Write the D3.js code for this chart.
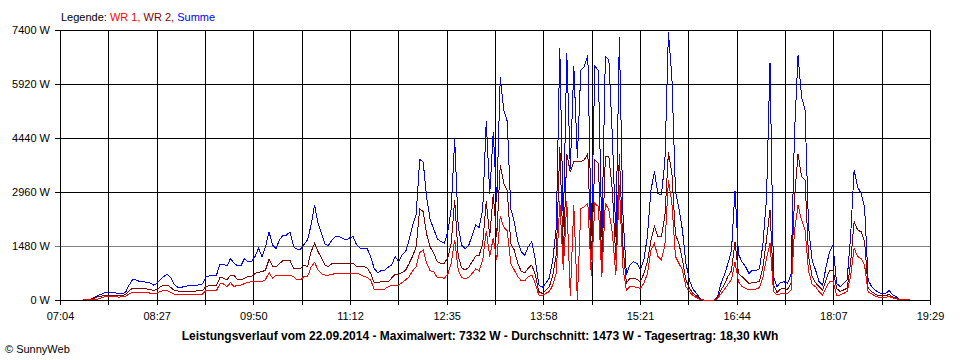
<!DOCTYPE html>
<html>
<head>
<meta charset="utf-8">
<script src="https://cdnjs.cloudflare.com/ajax/libs/d3/7.8.5/d3.min.js"></script>
<style>
  body { margin: 0; background: #fff; }
  svg { display: block; font-family: "Liberation Sans", Arial, sans-serif; font-size: 11px; }
</style>
</head>
<body>
<div id="chart"></div>
<script>
// samples every 3 minutes, first one at 07:24
var startMinute = 444;
var stepMinutes = 3;

// Summe (W)
var summe = [
  20, 20, 20, 60, 120, 150, 200, 200, 205, 200,
  170, 175, 200, 400, 550, 550, 510, 500, 490, 470,
  410, 455, 565, 650, 705, 600, 420, 350, 350, 370,
  390, 390, 385, 420, 440, 640, 660, 660, 680, 985,
  980, 930, 1140, 1005, 940, 940, 1140, 1050, 1050, 1190,
  1415, 1190, 1460, 1870, 1500, 1415, 1650, 1780, 1780, 1870,
  1460, 1390, 1390, 1525, 1645, 2055, 2600, 2100, 1830, 1520,
  1500, 1645, 1735, 1735, 1690, 1645, 1700, 1735, 1510, 1415,
  1415, 1415, 1190, 870, 750, 805, 805, 900, 960, 1190,
  1050, 1235, 1325, 1650, 2050, 2350, 3850, 3780, 2800, 2200,
  1950, 1680, 1600, 1560, 1850, 2500, 4400, 2000, 1500, 1400,
  1500, 1780, 2050, 1990, 2500, 4900, 2900, 4600, 2700, 6100,
  5200, 4900, 2500, 2150, 1600, 1320, 1230, 1460, 1600, 1100,
  410, 350, 455, 600, 1100, 2000, 6900, 2000, 6760, 3600,
  6400, 3900, 6300, 6400, 6700, 1750, 6400, 6300, 1735, 6670,
  6580, 4475, 1735, 7200, 2400, 700, 960, 1050, 1005, 840,
  1100, 1750, 3000, 3520, 2920, 2880, 3800, 7332, 6100, 3000,
  2500, 1920, 1005, 540, 300, 180, 45, 0, 0, 0,
  0, 90, 450, 700, 1000, 1350, 3000, 1250, 1050, 915,
  730, 820, 800, 860, 1550, 2790, 6490, 650, 365, 480,
  500, 455, 700, 4600, 6700, 5570, 5200, 2000, 1100, 820,
  500, 412, 900, 1325, 1500, 457, 365, 455, 550, 1735,
  3560, 3100, 2920, 2550, 550, 365, 275, 200, 180, 180,
  260, 137, 90, 20, 0, 20, 0
];

// WR 1 (W)
var wr1 = [
  5, 5, 5, 15, 20, 50, 90, 90, 90, 90,
  80, 85, 100, 160, 210, 210, 210, 205, 205, 190,
  180, 185, 240, 255, 260, 210, 160, 146, 146, 146,
  146, 146, 146, 150, 160, 255, 255, 255, 260, 440,
  440, 365, 475, 365, 410, 410, 450, 480, 500, 500,
  520, 500, 560, 750, 600, 685, 685, 685, 685, 685,
  640, 550, 550, 640, 640, 900, 1030, 820, 720, 685,
  685, 700, 730, 730, 730, 730, 730, 730, 730, 700,
  650, 620, 550, 300, 300, 300, 300, 360, 410, 410,
  410, 480, 550, 640, 800, 915, 1300, 1370, 1000, 800,
  775, 620, 620, 595, 700, 1005, 1650, 820, 620, 580,
  620, 730, 850, 800, 1100, 1900, 1190, 1700, 1100, 2300,
  2000, 1900, 1005, 820, 640, 530, 530, 640, 685, 455,
  137, 120, 180, 230, 410, 750, 2700, 820, 2700, 100,
  2600, 0, 2500, 2560, 2650, 650, 2650, 2560, 640, 2650,
  2470, 1830, 685, 3150, 900, 275, 365, 365, 350, 320,
  455, 720, 1370, 1550, 1190, 1100, 1500, 3280, 2650, 1200,
  1005, 820, 365, 230, 120, 70, 15, 0, 0, 0,
  0, 30, 170, 290, 430, 560, 1050, 500, 365, 320,
  275, 290, 300, 340, 640, 1150, 1550, 230, 137, 170,
  180, 180, 270, 1900, 2600, 2190, 1920, 800, 430, 365,
  230, 137, 340, 500, 500, 137, 137, 180, 230, 640,
  1420, 1190, 1140, 950, 220, 165, 110, 80, 70, 70,
  100, 55, 35, 8, 0, 5, 0
];

// WR 2 (W)
var wr2 = [
  15, 15, 15, 45, 90, 100, 130, 130, 130, 130,
  115, 115, 150, 250, 320, 320, 320, 310, 310, 280,
  270, 280, 370, 400, 410, 340, 260, 245, 245, 245,
  245, 245, 245, 250, 260, 370, 395, 395, 400, 620,
  600, 550, 685, 685, 550, 550, 600, 640, 640, 730,
  760, 775, 820, 1115, 930, 915, 1000, 1080, 1080, 1080,
  870, 870, 870, 960, 915, 1325, 1550, 1325, 1140, 950,
  915, 1005, 1005, 1005, 1005, 1005, 1005, 1005, 915, 915,
  915, 880, 730, 475, 475, 500, 500, 500, 600, 710,
  710, 750, 820, 1005, 1200, 1460, 2500, 2420, 1800, 1450,
  1280, 1060, 1000, 1005, 1150, 1550, 2750, 1190, 880, 820,
  895, 1050, 1200, 1230, 1550, 2700, 1735, 2900, 1735, 3700,
  3200, 3000, 1550, 1370, 1005, 780, 750, 870, 960, 685,
  230, 180, 275, 360, 685, 1250, 4200, 1190, 4000, 3500,
  3800, 3800, 3800, 3840, 4020, 1100, 3840, 3750, 1000, 3930,
  3930, 3015, 1100, 4000, 1500, 460, 595, 595, 565, 500,
  730, 1050, 1640, 2010, 1735, 1735, 2300, 4050, 3470, 1800,
  1550, 1100, 550, 320, 180, 110, 20, 0, 0, 0,
  0, 50, 280, 420, 650, 800, 1600, 720, 640, 550,
  455, 475, 480, 520, 915, 1650, 2470, 420, 200, 300,
  320, 290, 450, 2800, 4000, 3380, 3290, 1200, 650, 475,
  365, 275, 560, 820, 820, 320, 230, 275, 320, 1005,
  2150, 1920, 1870, 1600, 330, 230, 165, 120, 110, 110,
  160, 80, 55, 10, 0, 5, 0
];

var yTicks = [0, 1480, 2960, 4440, 5920, 7400];
var xTickLabels = ["07:04", "", "08:27", "", "09:50", "", "11:12", "", "12:35", "",
                   "13:58", "", "15:21", "", "16:44", "", "18:07", "", "19:29"];
var seriesNames = ["WR 1", "WR 2", "Summe"];
var titleText = "Leistungsverlauf vom 22.09.2014 - Maximalwert: 7332 W - Durchschnitt: 1473 W - Tagesertrag: 18,30 kWh";

function run() {
    var width = 960, height = 360;
    var left = 60, right = 930, top = 30, bottom = 300;
    var minStart = 424, minEnd = 1169;

    var x = d3.scaleLinear().domain([minStart, minEnd]).range([left, right]);
    var y = d3.scaleLinear().domain([0, 7400]).range([bottom, top]);

    var svg = d3.select("#chart").append("svg")
        .attr("width", width)
        .attr("height", height)
        .style("background", "#fff");

    //horizontal grid + y labels
    var yAxis = d3.axisLeft(y)
        .tickValues(yTicks)
        .tickSize(right - left + 5)
        .tickPadding(5)
        .tickFormat(function(d) { return d + " W"; });
    var gy = svg.append("g")
        .attr("transform", "translate(" + right + ",0)")
        .call(yAxis);
    gy.select(".domain").remove();
    gy.selectAll(".tick line")
        .attr("stroke", function(d) { return d === 1480 ? "#808080" : "#000"; })
        .attr("shape-rendering", "crispEdges");
    gy.selectAll(".tick text")
        .attr("fill", "#000")
        .style("font-size", "11px")
        .style("font-family", "'Liberation Sans', Arial, sans-serif");

    //vertical grid + time labels
    var xTickValues = d3.range(xTickLabels.length).map(function(k) {
        return minStart + k * (minEnd - minStart) / (xTickLabels.length - 1);
    });
    var xAxis = d3.axisBottom(x)
        .tickValues(xTickValues)
        .tickSize(bottom - top + 5)
        .tickPadding(7)
        .tickFormat(function(d, i) { return xTickLabels[i]; });
    var gx = svg.append("g")
        .attr("transform", "translate(0," + top + ")")
        .call(xAxis);
    gx.select(".domain").remove();
    gx.selectAll(".tick line")
        .attr("stroke", "#000")
        .attr("shape-rendering", "crispEdges");
    gx.selectAll(".tick text")
        .attr("fill", "#000")
        .style("font-size", "11px")
        .style("font-family", "'Liberation Sans', Arial, sans-serif");

    //lines: Summe first, WR 2, then WR 1 on top
    var series = [
        { values: summe, color: "#0000ff" },
        { values: wr2, color: "#800000" },
        { values: wr1, color: "#ff0000" }
    ];
    var line = d3.line()
        .x(function(d, i) { return x(startMinute + i * stepMinutes); })
        .y(function(d) { return y(d); });

    svg.selectAll("path.series")
        .data(series)
        .enter()
        .append("path")
        .attr("class", "series")
        .attr("fill", "none")
        .attr("stroke", function(d) { return d.color; })
        .attr("stroke-width", 1)
        .attr("shape-rendering", "crispEdges")
        .attr("d", function(d) { return line(d.values); });

    //legend
    var legend = svg.append("text")
        .attr("x", 61)
        .attr("y", 21)
        .attr("fill", "#000");
    legend.append("tspan").text("Legende: ");
    legend.append("tspan").attr("fill", "#ff0000").text(seriesNames[0] + ",");
    legend.append("tspan").attr("fill", "#800000").text(" " + seriesNames[1] + ",");
    legend.append("tspan").attr("fill", "#0000ff").text(" " + seriesNames[2]);

    //title
    svg.append("text")
        .attr("x", 480)
        .attr("y", 340)
        .attr("text-anchor", "middle")
        .style("font-weight", "bold")
        .style("font-size", "12px")
        .text(titleText);

    svg.append("text")
        .attr("x", 5)
        .attr("y", 353)
        .text("\u00a9 SunnyWeb");
}

run();
</script>
</body>
</html>
